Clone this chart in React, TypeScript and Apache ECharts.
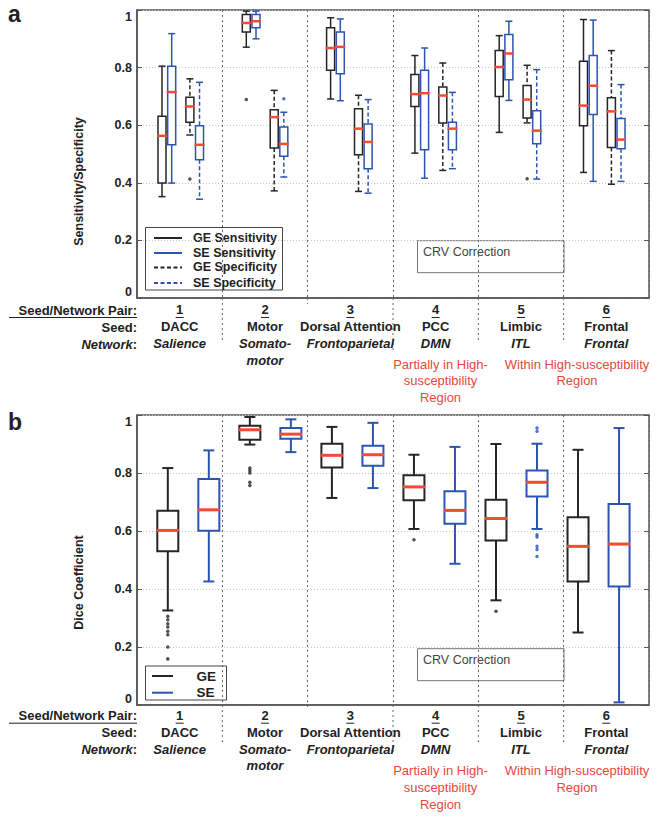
import React, { useEffect, useRef } from 'react';
import * as echarts from 'echarts';

// ---------- categories / labels ----------
const pairNumbers = ['1', '2', '3', '4', '5', '6'];
const seeds = ['DACC', 'Motor', 'Dorsal Attention', 'PCC', 'Limbic', 'Frontal'];
const networks = ['Salience', 'Somato-\nmotor', 'Frontoparietal', 'DMN', 'ITL', 'Frontal'];
const noteA = 'Partially in High-\nsusceptibility\nRegion';
const noteB = 'Within High-susceptibility\nRegion';

// ---------- panel a: [min, q1, median, q3, max] per seed/network pair ----------
const geSensitivity = [
  [0.352, 0.399, 0.563, 0.631, 0.805],
  [0.871, 0.924, 0.955, 0.984, 0.996],
  [0.691, 0.791, 0.868, 0.938, 0.973],
  [0.503, 0.665, 0.708, 0.776, 0.842],
  [0.575, 0.7, 0.802, 0.859, 0.911],
  [0.436, 0.598, 0.668, 0.822, 0.967],
];
const seSensitivity = [
  [0.399, 0.532, 0.715, 0.805, 0.918],
  [0.9, 0.938, 0.961, 0.984, 0.996],
  [0.685, 0.779, 0.872, 0.924, 0.969],
  [0.416, 0.515, 0.711, 0.791, 0.868],
  [0.686, 0.758, 0.849, 0.915, 0.961],
  [0.405, 0.637, 0.737, 0.842, 0.965],
];
const geSpecificity = [
  [0.566, 0.61, 0.665, 0.697, 0.761],
  [0.372, 0.521, 0.628, 0.654, 0.721],
  [0.37, 0.497, 0.588, 0.657, 0.704],
  [0.443, 0.608, 0.703, 0.733, 0.816],
  [0.608, 0.625, 0.689, 0.738, 0.808],
  [0.395, 0.523, 0.648, 0.695, 0.859],
];
const seSpecificity = [
  [0.343, 0.48, 0.532, 0.598, 0.749],
  [0.42, 0.492, 0.535, 0.594, 0.645],
  [0.364, 0.449, 0.542, 0.604, 0.689],
  [0.449, 0.515, 0.588, 0.61, 0.714],
  [0.413, 0.536, 0.581, 0.65, 0.793],
  [0.405, 0.518, 0.55, 0.623, 0.741],
];
// outliers: [pair, value]
const geSensOutliers = [[2, 0.689]];
const seSensOutliers: number[][] = [];
const geSpecOutliers = [[1, 0.413], [5, 0.414]];
const seSpecOutliers = [[2, 0.692]];

// ---------- panel b: Dice coefficient ----------
const geDice = [
  [0.326, 0.53, 0.602, 0.67, 0.817],
  [0.898, 0.915, 0.949, 0.963, 0.993],
  [0.714, 0.819, 0.861, 0.901, 0.959],
  [0.607, 0.706, 0.752, 0.792, 0.863],
  [0.361, 0.567, 0.643, 0.708, 0.9],
  [0.25, 0.426, 0.547, 0.647, 0.88],
];
const seDice = [
  [0.426, 0.601, 0.673, 0.779, 0.878],
  [0.872, 0.918, 0.934, 0.955, 0.985],
  [0.748, 0.825, 0.863, 0.894, 0.973],
  [0.487, 0.625, 0.671, 0.737, 0.89],
  [0.607, 0.719, 0.768, 0.809, 0.901],
  [0.009, 0.409, 0.555, 0.693, 0.955],
];
const geDiceOutliers = [
  [1, 0.306], [1, 0.294], [1, 0.28], [1, 0.269], [1, 0.254], [1, 0.242], [1, 0.2], [1, 0.159],
  [2, 0.817], [2, 0.809], [2, 0.8], [2, 0.768], [2, 0.757],
  [4, 0.57], [5, 0.323],
];
const seDiceOutliers = [[5, 0.955], [5, 0.944], [5, 0.587], [5, 0.579], [5, 0.547], [5, 0.536], [5, 0.512]];

// ---------- styling / layout ----------
const FONT = '"Liberation Sans", Arial, Helvetica, sans-serif';
const BLACK = '#252525';
const BLUE = '#2c54b2';
const RED = '#f24a33';
const TEXT = '#222';
const RED_TEXT = '#e8483c';
const GL = 137;
const GW = 512;
const A_TOP = 10;
const A_H = 288;
const B_TOP = 415;
const B_H = 290;
const OFF_A = [-0.2, -0.085, 0.131, 0.245];

type BoxOpts = { color: string; dashed: boolean; halfW: number; capHalf: number; medHalf: number; lw: number; medLw: number };
function boxRenderer(o: BoxOpts) {
  return (_params: any, api: any) => {
    const x = api.value(0);
    const p = (v: number) => api.coord([x, v]);
    const [px, yMin] = p(api.value(1));
    const yQ1 = p(api.value(2))[1];
    const yMed = p(api.value(3))[1];
    const yQ3 = p(api.value(4))[1];
    const yMax = p(api.value(5))[1];
    const ws: any = { stroke: o.color, lineWidth: o.lw, lineDash: o.dashed ? [4, 2.5] : 'solid' };
    const solid: any = { stroke: o.color, lineWidth: o.lw };
    return {
      type: 'group',
      children: [
        { type: 'line', shape: { x1: px, y1: yMax, x2: px, y2: yQ3 }, style: ws },
        { type: 'line', shape: { x1: px, y1: yQ1, x2: px, y2: yMin }, style: ws },
        { type: 'line', shape: { x1: px - o.capHalf, y1: yMax, x2: px + o.capHalf, y2: yMax }, style: solid },
        { type: 'line', shape: { x1: px - o.capHalf, y1: yMin, x2: px + o.capHalf, y2: yMin }, style: solid },
        { type: 'rect', shape: { x: px - o.halfW, y: yQ3, width: 2 * o.halfW, height: yQ1 - yQ3 }, style: { stroke: o.color, lineWidth: o.lw, fill: '#fff' } },
        { type: 'line', shape: { x1: px - o.medHalf, y1: yMed, x2: px + o.medHalf, y2: yMed }, style: { stroke: RED, lineWidth: o.medLw } },
      ],
    };
  };
}

function boxSeries(name: string, rows: number[][], pos: (i: number) => number, xi: number, yi: number, o: BoxOpts) {
  return {
    type: 'custom',
    name,
    xAxisIndex: xi,
    yAxisIndex: yi,
    silent: true,
    data: rows.map((r, i) => [pos(i), ...r]),
    encode: { x: 0, y: [1, 2, 3, 4, 5] },
    renderItem: boxRenderer(o),
  };
}
function outlierSeries(name: string, pts: number[][], pos: (g: number) => number, xi: number, yi: number, color: string) {
  return {
    type: 'scatter',
    name,
    xAxisIndex: xi,
    yAxisIndex: yi,
    silent: true,
    symbol: 'circle',
    symbolSize: 3.5,
    itemStyle: { color },
    data: pts.map(([g, v]) => [pos(g), v]),
  };
}

const labelFormatter = (_v: string, i: number) =>
  `{n|${pairNumbers[i]}}\n{s|${seeds[i]}}\n` + networks[i].split('\n').map((l) => `{nw|${l}}`).join('\n');

function catAxis(gridIndex: number, margin: number) {
  return {
    gridIndex,
    type: 'category',
    data: seeds,
    boundaryGap: true,
    axisLine: { show: true, lineStyle: { color: '#555', width: 1.5 } },
    axisTick: { show: false },
    splitLine: { show: true, interval: 0, lineStyle: { color: '#666', width: 1, type: [2, 3] } },
    axisLabel: {
      interval: 0,
      margin,
      verticalAlign: 'top',
      lineHeight: 16.8,
      formatter: labelFormatter,
      rich: {
        n: { fontFamily: FONT, fontWeight: 'bold', fontSize: 13, color: TEXT, lineHeight: 16.8 },
        s: { fontFamily: FONT, fontWeight: 'bold', fontSize: 13, color: TEXT, lineHeight: 16.8 },
        nw: { fontFamily: FONT, fontWeight: 'bold', fontStyle: 'italic', fontSize: 13, color: TEXT, lineHeight: 16.8 },
      },
    },
  };
}
function valAxisLeft(gridIndex: number) {
  return {
    gridIndex,
    type: 'value',
    min: 0,
    max: 1,
    interval: 0.2,
    axisLine: { show: true, lineStyle: { color: '#555', width: 1.5 } },
    axisTick: { show: true, inside: true, length: 5, lineStyle: { color: '#555' } },
    splitLine: { show: true, lineStyle: { color: '#c4c4c4', width: 1, type: [1, 2] } },
    axisLabel: {
      fontFamily: FONT,
      fontWeight: 'bold',
      fontSize: 12.5,
      color: TEXT,
      margin: 5,
      verticalAlignMinLabel: 'bottom',
      verticalAlignMaxLabel: 'top',
    },
  };
}
function valAxisRight(gridIndex: number) {
  return {
    gridIndex,
    type: 'value',
    min: 0,
    max: 1,
    interval: 0.2,
    position: 'right',
    axisLine: { show: false },
    axisTick: { show: true, inside: true, length: 5, lineStyle: { color: '#555' } },
    axisLabel: { show: false },
    splitLine: { show: false },
  };
}

function txt(x: number, y: number, text: string, extra: any = {}) {
  return {
    type: 'text',
    x,
    y,
    silent: true,
    style: { text, fontFamily: FONT, fontSize: 13, fontWeight: 'bold', fill: TEXT, align: 'left', verticalAlign: 'middle', ...extra },
  };
}
function hline(x1: number, x2: number, y: number, stroke: string, lineWidth = 1, lineDash: any = 'solid') {
  return { type: 'line', silent: true, shape: { x1, y1: y, x2, y2: y }, style: { stroke, lineWidth, lineDash } };
}
function vline(x: number, y1: number, y2: number) {
  return { type: 'line', silent: true, shape: { x1: x, y1, x2: x, y2 }, style: { stroke: '#666', lineWidth: 1, lineDash: [2, 3] } };
}

function rowLabels(y0: number) {
  const cw = GW / 6;
  const els: any[] = [
    txt(GL, y0, 'Seed/Network Pair:', { align: 'right' }),
    hline(9, GL, y0 + 7.5, TEXT, 1),
    txt(GL, y0 + 17, 'Seed:', { align: 'right' }),
    {
      type: 'text',
      x: GL,
      y: y0 + 34,
      silent: true,
      style: {
        text: '{i|Network}{c|:}',
        align: 'right',
        verticalAlign: 'middle',
        rich: {
          i: { fontFamily: FONT, fontSize: 13, fontWeight: 'bold', fontStyle: 'italic', fill: TEXT },
          c: { fontFamily: FONT, fontSize: 13, fontWeight: 'bold', fill: TEXT },
        },
      },
    },
  ];
  for (let g = 0; g < 6; g++) {
    const cx = GL + (g + 0.5) * cw;
    els.push(hline(cx - 4, cx + 4, y0 + 7.5, TEXT, 1));
  }
  return els;
}
function notes(top: number) {
  return [
    txt(440.5, top, noteA, { fontWeight: 'normal', fill: RED_TEXT, align: 'center', verticalAlign: 'top', lineHeight: 16.7 }),
    txt(577, top, noteB, { fontWeight: 'normal', fill: RED_TEXT, align: 'center', verticalAlign: 'top', lineHeight: 16.7 }),
  ];
}
function crvBox(y: number) {
  return [
    { type: 'rect', silent: true, shape: { x: 417.5, y, width: 146.5, height: 32 }, style: { fill: '#fff', stroke: '#777', lineWidth: 1 } },
    txt(423, y + 11.5, 'CRV Correction', { fontWeight: 'normal', fontSize: 12.5, fill: '#444' }),
  ];
}

export default function App() {
  const ref = useRef<HTMLDivElement>(null);
  useEffect(() => {
    document.body.style.margin = '0';
    const chart = echarts.init(ref.current as HTMLDivElement, null, { renderer: 'svg' });
    const posA = (k: number) => (i: number) => i + 1 + OFF_A[k];
    const posAg = (k: number) => (g: number) => g + OFF_A[k];
    const sA = { halfW: 4, capHalf: 3.5, medHalf: 5, lw: 1.5, medLw: 2.5 };
    const sB = { halfW: 10.5, capHalf: 5.5, medHalf: 11, lw: 2, medLw: 3 };
    const ySep = [1, 2, 3, 4, 5].map((k) => GL + (k * GW) / 6);
    const extA = [340, 304, 350, 340, 340];
    const extB = [745, 708, 755, 745, 745];

    const graphic: any[] = [
      txt(8, 14, 'a', { fontSize: 23 }),
      txt(8, 422, 'b', { fontSize: 23 }),
      {
        type: 'text', x: 79, y: 181.5, rotation: Math.PI / 2, silent: true,
        style: { text: 'Sensitivity/Specificity', fontFamily: FONT, fontSize: 12.5, fontWeight: 'bold', fill: TEXT, align: 'center', verticalAlign: 'middle' },
      },
      {
        type: 'text', x: 79, y: 582.5, rotation: Math.PI / 2, silent: true,
        style: { text: 'Dice Coefficient', fontFamily: FONT, fontSize: 12.5, fontWeight: 'bold', fill: TEXT, align: 'center', verticalAlign: 'middle' },
      },
      ...ySep.map((x, k) => vline(x, A_TOP + A_H, extA[k])),
      ...ySep.map((x, k) => vline(x, B_TOP + B_H, extB[k])),
      ...rowLabels(310),
      ...rowLabels(715.7),
      ...notes(355.7),
      ...notes(762.3),
      ...crvBox(240.7),
      ...crvBox(648.7),
      // legend a
      { type: 'rect', silent: true, shape: { x: 145.5, y: 227.5, width: 137, height: 62.5 }, style: { fill: '#fff', stroke: '#444', lineWidth: 1 } },
      hline(154, 182, 238, BLACK, 2),
      hline(154, 182, 253, BLUE, 2),
      hline(154, 182, 267.5, BLACK, 2, [4, 2.5]),
      hline(154, 182, 283, BLUE, 2, [4, 2.5]),
      txt(193, 238, 'GE Sensitivity', { fontSize: 12.5 }),
      txt(193, 252.5, 'SE Sensitivity', { fontSize: 12.5 }),
      txt(193, 267, 'GE Specificity', { fontSize: 12.5 }),
      txt(193, 282.5, 'SE Specificity', { fontSize: 12.5 }),
      // legend b
      { type: 'rect', silent: true, shape: { x: 145.5, y: 666, width: 81, height: 34 }, style: { fill: '#fff', stroke: '#444', lineWidth: 1 } },
      hline(152, 173, 676, BLACK, 2),
      hline(152, 173, 692.7, BLUE, 2),
      txt(196.5, 676.5, 'GE', { fontSize: 13.5 }),
      txt(196.5, 692.5, 'SE', { fontSize: 13.5 }),
    ];

    chart.setOption({
      animation: false,
      backgroundColor: '#fff',
      textStyle: { fontFamily: FONT },
      grid: [
        { left: GL, top: A_TOP, width: GW, height: A_H, show: true, borderColor: '#555', borderWidth: 1.5, backgroundColor: '#fff', outerBoundsMode: 'none' },
        { left: GL, top: B_TOP, width: GW, height: B_H, show: true, borderColor: '#555', borderWidth: 1.5, backgroundColor: '#fff', outerBoundsMode: 'none' },
      ],
      xAxis: [
        catAxis(0, 3.5),
        { gridIndex: 0, type: 'value', min: 0.5034, max: 6.577, show: false },
        catAxis(1, 2),
        { gridIndex: 1, type: 'value', min: 0.249, max: 12.73, show: false },
      ],
      yAxis: [valAxisLeft(0), valAxisRight(0), valAxisLeft(1), valAxisRight(1)],
      series: [
        boxSeries('GE Sensitivity', geSensitivity, posA(0), 1, 0, { color: BLACK, dashed: false, ...sA }),
        boxSeries('SE Sensitivity', seSensitivity, posA(1), 1, 0, { color: BLUE, dashed: false, ...sA }),
        boxSeries('GE Specificity', geSpecificity, posA(2), 1, 0, { color: BLACK, dashed: true, ...sA }),
        boxSeries('SE Specificity', seSpecificity, posA(3), 1, 0, { color: BLUE, dashed: true, ...sA }),
        outlierSeries('GE Sensitivity outliers', geSensOutliers, posAg(0), 1, 0, BLACK),
        outlierSeries('SE Sensitivity outliers', seSensOutliers, posAg(1), 1, 0, BLUE),
        outlierSeries('GE Specificity outliers', geSpecOutliers, posAg(2), 1, 0, BLACK),
        outlierSeries('SE Specificity outliers', seSpecOutliers, posAg(3), 1, 0, BLUE),
        boxSeries('GE', geDice, (i) => 2 * i + 1, 3, 2, { color: BLACK, dashed: false, ...sB }),
        boxSeries('SE', seDice, (i) => 2 * i + 2, 3, 2, { color: BLUE, dashed: false, ...sB }),
        outlierSeries('GE outliers', geDiceOutliers, (g) => 2 * g - 1, 3, 2, BLACK),
        outlierSeries('SE outliers', seDiceOutliers, (g) => 2 * g, 3, 2, BLUE),
      ],
      graphic,
    });
    return () => chart.dispose();
  }, []);
  return <div ref={ref} style={{ width: 664, height: 820, background: '#fff' }} />;
}
